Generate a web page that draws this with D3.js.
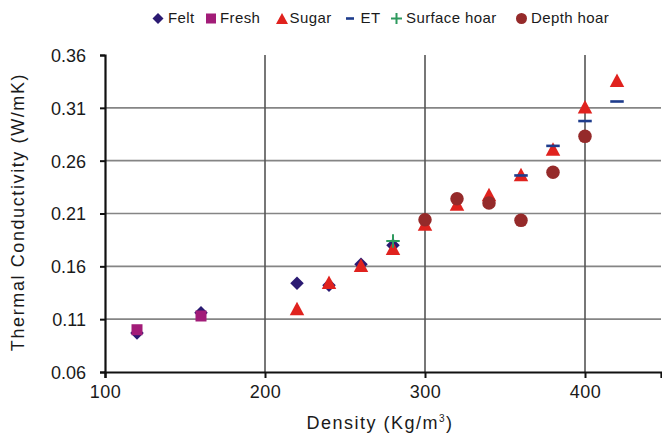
<!DOCTYPE html>
<html><head><meta charset="utf-8">
<script src="https://cdn.jsdelivr.net/npm/d3@7"></script>
<style>
body{margin:0;background:#fff;}
svg text{font-family:"Liberation Sans",Arial,sans-serif;fill:#1a1a1a;}
</style></head>
<body><svg id="c" width="662" height="438"></svg>
<script>
// ---- data (density kg/m3, conductivity W/mK) ----
const felt = [[120,0.097],[160,0.116],[220,0.144],[240,0.142],[260,0.162],[280,0.180]];
const fresh = [[120,0.100],[160,0.113]];
const sugar = [[220,0.120],[240,0.145],[260,0.161],[280,0.177],[300,0.200],[320,0.219],[340,0.228],[360,0.247],[380,0.271],[400,0.311],[420,0.336]];
const et = [[360,0.246],[380,0.274],[400,0.2975],[420,0.316]];
const surfaceHoar = [[280,0.184]];
const depthHoar = [[300,0.204],[320,0.224],[340,0.220],[360,0.2035],[380,0.249],[400,0.283]];
const seriesNames = ["Felt","Fresh","Sugar","ET","Surface hoar","Depth hoar"];
const xTicks = [100,200,300,400];
const yTicks = [0.06,0.11,0.16,0.21,0.26,0.31,0.36];

const series = [
  {name:"Felt", data:felt, shape:"diamond", color:"#2b1a72"},
  {name:"Fresh", data:fresh, shape:"square", color:"#a21c78"},
  {name:"Sugar", data:sugar, shape:"triangle", color:"#e0221e"},
  {name:"ET", data:et, shape:"dash", color:"#1e3c8c"},
  {name:"Surface hoar", data:surfaceHoar, shape:"plus", color:"#2e9a5e"},
  {name:"Depth hoar", data:depthHoar, shape:"circle", color:"#952a2a"}
];

const svg = d3.select("#c");
const x = d3.scaleLinear().domain([100,447.5]).range([105,661]);
const y = d3.scaleLinear().domain([0.06,0.36]).range([372,55]);

// gridlines
const g = svg.append("g");
g.selectAll(".hg").data(yTicks.slice(1,-1)).enter().append("line")
  .attr("x1",x(100)).attr("x2",x(447.5))
  .attr("y1",d=>y(d)).attr("y2",d=>y(d))
  .attr("stroke","#858585").attr("stroke-width",1.6);
g.selectAll(".vg").data(xTicks.slice(1)).enter().append("line")
  .attr("x1",d=>x(d)).attr("x2",d=>x(d))
  .attr("y1",y(0.36)).attr("y2",y(0.06))
  .attr("stroke","#555").attr("stroke-width",1.6);

// axes
const xa = svg.append("g").attr("transform",`translate(0,${y(0.06)})`)
  .call(d3.axisBottom(x).tickValues(xTicks).tickSize(6).tickPadding(7).tickFormat(d3.format("d")));
const ya = svg.append("g").attr("transform",`translate(${x(100)},0)`)
  .call(d3.axisLeft(y).tickValues(yTicks).tickSize(5).tickPadding(14).tickFormat(d3.format(".2f")));
[xa,ya].forEach(a=>{
  a.select(".domain").attr("stroke","#111").attr("stroke-width",2.2);
  a.selectAll(".tick line").attr("stroke","#111").attr("stroke-width",2);
  a.selectAll("text").style("font-size","18px").attr("fill","#1a1a1a");
});
xa.selectAll("text").style("letter-spacing","0.5px");
ya.selectAll("text").attr("dy","0.36em");

// marker drawing
function drawMarker(sel, shape, color, s){
  const h = s/2;
  if(shape==="diamond"){
    sel.append("path").attr("d",`M0,${-h}L${h},0L0,${h}L${-h},0Z`).attr("fill",color);
  } else if(shape==="square"){
    sel.append("rect").attr("x",-h+0.5).attr("y",-h+0.5).attr("width",s-1).attr("height",s-1).attr("fill",color);
  } else if(shape==="triangle"){
    sel.append("path").attr("d",`M0,${-h}L${h+0.5},${h}L${-h-0.5},${h}Z`).attr("fill",color);
  } else if(shape==="dash"){
    sel.append("rect").attr("x",-h).attr("y",-1.3).attr("width",s).attr("height",2.6).attr("fill",color);
  } else if(shape==="plus"){
    sel.append("path").attr("d",`M${-h},0H${h}M0,${-h}V${h}`).attr("stroke",color).attr("stroke-width",2).attr("fill","none");
  } else if(shape==="circle"){
    sel.append("circle").attr("r",h).attr("fill",color);
  }
}

series.forEach(sr=>{
  const gs = svg.append("g");
  sr.data.forEach(d=>{
    const m = gs.append("g").attr("transform",`translate(${x(d[0])},${y(d[1])})`);
    drawMarker(m, sr.shape, sr.color, sr.shape==="square"?12:13.5);
  });
});

// legend
const legendPos = [[158,168],[211,220],[282,289.5],[350,360.5],[396.5,406],[521.5,531]];
series.forEach((sr,i)=>{
  const m = svg.append("g").attr("transform",`translate(${legendPos[i][0]},18.5)`);
  drawMarker(m, sr.shape, sr.color, sr.shape==="dash"?8:11);
  svg.append("text").attr("x",legendPos[i][1]).attr("y",23)
    .style("font-size","15px").style("letter-spacing","0.4px").text(seriesNames[i]);
});

// axis titles
const xt = svg.append("text").attr("x",380).attr("y",429).attr("text-anchor","middle")
  .style("font-size","18px").style("letter-spacing","1.5px");
xt.append("tspan").text("Density (Kg/m");
xt.append("tspan").attr("dy",-7).style("font-size","10px").text("3");
xt.append("tspan").attr("dy",7).text(")");

svg.append("text").attr("transform","translate(24,212) rotate(-90)").attr("text-anchor","middle")
  .style("font-size","18px").style("letter-spacing","1.6px").text("Thermal Conductivity (W/mK)");
</script></body></html>
